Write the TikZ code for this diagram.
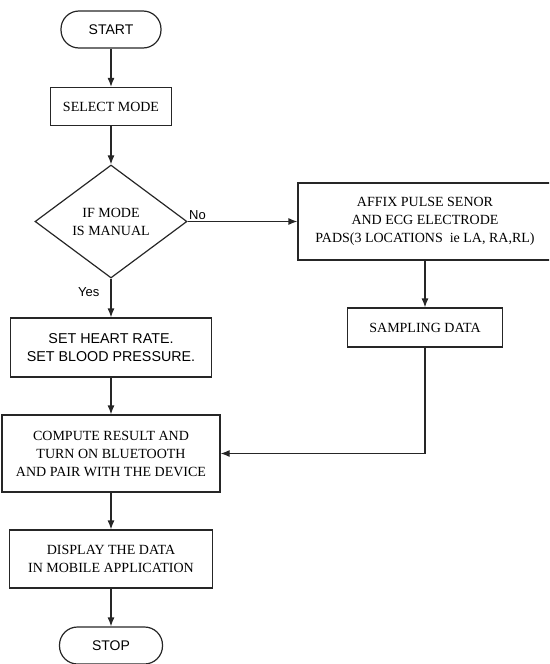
\documentclass[tikz,border=0pt]{standalone}
\usepackage{fontspec}
\setmainfont{Liberation Serif}
\newfontfamily\arialfont{Liberation Sans}
\usetikzlibrary{shapes,arrows.meta,positioning}

\begin{document}
\begin{tikzpicture}[
    x=1pt, y=-1pt,
    font=\fontsize{14}{18}\selectfont,
    every node/.style={draw=black!85, line width=1.2pt, inner sep=2pt, align=center},
    terminal/.style={rectangle, rounded corners=18pt, minimum width=100pt, minimum height=37pt, font=\arialfont\fontsize{14}{18}\selectfont},
    box/.style={rectangle, minimum height=38pt},
    decision/.style={diamond, inner sep=0pt, minimum width=152pt, minimum height=113pt},
    tag/.style={draw=none, inner sep=1pt, font=\arialfont\fontsize{13}{16}\selectfont},
    arrow/.style={-{Latex[length=9pt,width=7pt]}, draw=black!85, line width=1.2pt}
]
\useasboundingbox (0,0) rectangle (549,664);
\clip (0,0) rectangle (549,664);

% Main components
\node[terminal] (start) at (111,29.5) {START};
\node[box, minimum width=121pt] (select) at (111,106.5) {SELECT MODE};
\node[decision] (mode) at (111,221.5) {IF MODE\\IS MANUAL};
\node[box, minimum width=201pt, minimum height=59pt, font=\arialfont\fontsize{14.3}{18}\selectfont] (setrate) at (111,347.5) {SET HEART RATE.\\SET BLOOD PRESSURE.};
\node[box, minimum width=218pt, minimum height=77pt] (compute) at (111,453.5) {COMPUTE RESULT AND\\TURN ON BLUETOOTH\\AND PAIR WITH THE DEVICE};
\node[box, minimum width=203pt, minimum height=58pt] (display) at (111,559) {DISPLAY THE DATA\\IN MOBILE APPLICATION};
\node[terminal, minimum width=103pt] (stop) at (111,645.5) {STOP};

% Sensor branch
\node[box, minimum width=254pt, minimum height=77pt] (affix) at (425,221.5) {AFFIX PULSE SENOR\\AND ECG ELECTRODE\\PADS(3 LOCATIONS\ \ ie LA, RA,RL)};
\node[box, minimum width=155pt, minimum height=39pt] (sampling) at (425,327.5) {SAMPLING DATA};

% Arrows
\draw[arrow] (start) -- (select);
\draw[arrow] (select) -- (mode);
\draw[arrow] (mode.east) -- node[tag, pos=0, above right] {No} (mode.east -| affix.west);
\draw[arrow] (mode.south) -- node[tag, pos=0.35, left=10pt] {Yes} (setrate);
\draw[arrow] (setrate) -- (compute);
\draw[arrow] (affix) -- (sampling);
\draw[arrow] (sampling) |- (compute);
\draw[arrow] (compute) -- (display);
\draw[arrow] (display) -- (stop);

\end{tikzpicture}
\end{document}
